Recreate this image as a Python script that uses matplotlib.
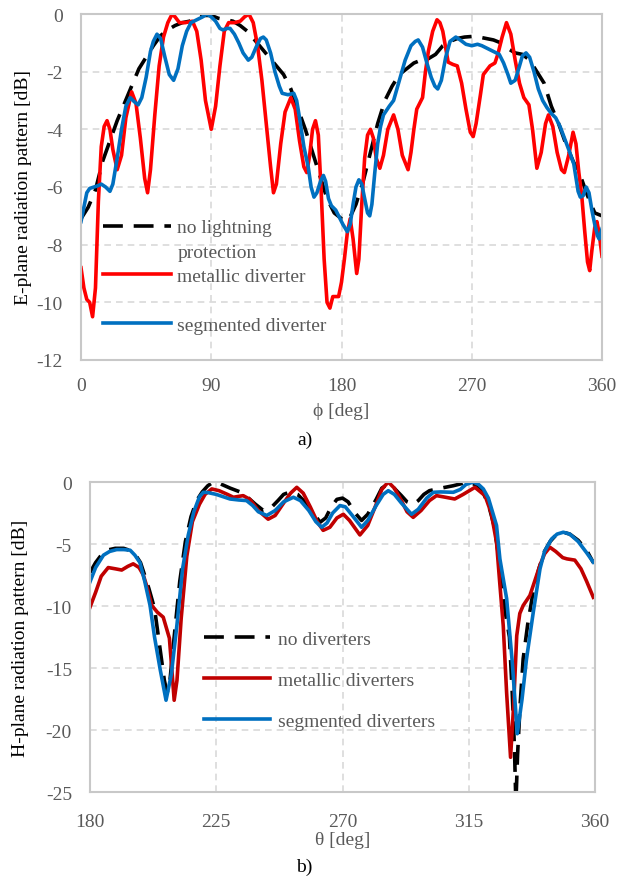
import matplotlib
matplotlib.use("Agg")
import matplotlib.pyplot as plt

plt.rcParams['font.family'] = ['Liberation Serif', 'DejaVu Serif']
plt.rcParams['axes.unicode_minus'] = False

# ---- E-plane (top) ----
phi_ref = [0, 5, 10, 15, 20, 25, 30, 35, 40, 45, 50, 55, 60, 65, 70, 75, 80, 85, 90, 95,
           100, 105, 110, 115, 120, 125, 130, 135, 140, 145, 150, 155, 160, 165, 170, 175,
           180, 185, 190, 195, 200, 205, 210, 215, 220, 225, 230, 235, 240, 245, 250, 255,
           260, 265, 270, 275, 280, 285, 290, 295, 300, 305, 310, 315, 320, 325, 330, 335,
           340, 345, 350, 355, 360]
e_none = [-7.1, -6.7, -6.1, -5.1, -4.4, -3.7, -3.1, -2.5, -1.9, -1.5, -1.1, -0.75, -0.55,
          -0.4, -0.3, -0.25, -0.15, -0.05, -0.05, -0.15, -0.2, -0.25, -0.4, -0.6, -0.9, -1.2,
          -1.5, -1.8, -2.1, -2.6, -3.3, -4.0, -4.8, -5.6, -6.4, -6.9, -7.1, -7.15, -6.6, -5.8,
          -4.8, -3.8, -3.0, -2.5, -2.1, -1.9, -1.7, -1.6, -1.55, -1.4, -1.1, -0.95, -0.85,
          -0.8, -0.78, -0.8, -0.85, -0.9, -1.0, -1.2, -1.35, -1.4, -1.6, -2.0, -2.4, -3.2,
          -3.8, -4.5, -5.1, -5.6, -6.3, -6.9, -7.0]

phi_met = [0, 2, 4, 6, 8, 10, 12, 14, 16, 18, 20, 22, 25, 28, 31, 35, 38, 41, 44, 46, 48,
           51, 54, 57, 60, 63, 65, 68, 72, 77, 80, 83, 86, 90, 93, 96, 99, 102, 106, 110,
           113, 116, 119, 122, 125, 128, 131, 133, 135, 138, 141, 145, 148, 151, 154, 156,
           158, 160, 162, 164, 166, 168, 170, 172, 174, 176, 178, 180, 182, 184, 186, 188,
           190.5, 192, 194, 196, 198, 200, 202, 204, 206.5, 209, 212, 216, 219, 222, 226,
           228, 230, 232, 234, 236, 238, 240, 243, 246, 248, 250, 253.7, 257, 260, 263, 266,
           269, 271, 273, 276, 278, 282.6, 286, 288, 291, 294, 297, 300, 303, 306, 309.5,
           312, 315, 318, 321, 323, 326, 329, 332, 334, 337, 340, 342, 344, 346, 348, 350,
           351.5, 353, 355, 356.5, 358, 360]
e_met = [-8.8, -9.5, -9.9, -10.0, -10.5, -9.5, -6.5, -4.6, -3.9, -3.7, -4.0, -4.7, -5.4,
         -4.9, -3.6, -2.7, -3.1, -4.3, -5.7, -6.2, -5.4, -3.5, -1.8, -0.8, -0.3, 0.0, -0.1,
         -0.3, -0.3, -0.25, -0.6, -1.6, -3.0, -4.0, -3.2, -1.8, -0.6, -0.3, -0.3, -0.25,
         -0.1, 0.0, -0.3, -1.1, -2.3, -3.8, -5.3, -6.2, -5.9, -4.5, -3.4, -2.9, -3.3, -4.4,
         -5.3, -5.5, -4.9, -4.0, -3.7, -4.2, -6.2, -8.5, -10.0, -10.2, -9.8, -9.8, -9.8,
         -9.3, -8.5, -7.6, -7.1, -7.8, -9.0, -8.5, -6.6, -5.0, -4.2, -4.0, -4.3, -5.0,
         -5.35, -4.9, -4.0, -3.5, -4.0, -4.9, -5.4, -4.8, -4.0, -3.3, -3.1, -2.9, -2.0,
         -1.3, -0.6, -0.2, -0.3, -0.6, -1.67, -1.75, -1.8, -2.4, -3.3, -4.1, -4.25, -3.8,
         -2.8, -2.1, -1.8, -1.7, -1.4, -0.8, -0.3, -0.7, -1.6, -2.4, -2.9, -3.15, -4.0,
         -5.35, -4.8, -3.8, -3.5, -3.9, -4.8, -5.4, -5.5, -4.9, -4.1, -4.5, -5.5, -6.3,
         -7.5, -8.6, -8.9, -8.2, -7.4, -7.2, -7.6, -8.4]

phi_seg = [0, 2, 4, 6, 9, 12, 14, 17, 20, 22, 25, 28, 31, 34, 37, 39.5, 42, 45, 48, 50,
           52.5, 55, 58, 61, 64, 67, 70, 73, 76, 80, 84, 87, 90, 93, 96, 98, 101, 103, 106,
           109, 112, 115.6, 118, 121, 124, 126, 128, 131, 134, 137, 139, 143, 147, 149, 151,
           154, 157, 159, 161, 163, 165.5, 167.5, 169, 171, 173, 176, 179, 181, 184, 186,
           188, 190, 192, 194, 196, 198, 199.5, 201, 203, 205, 207, 209, 213, 216, 220, 224,
           228, 231, 233, 236, 239, 242, 244.5, 246.5, 249, 252, 255, 259, 262, 266, 270,
           274, 277, 281, 285, 289, 292, 295, 297, 300, 303, 305, 307.5, 310, 313, 316, 319,
           322, 325, 328, 331, 334, 337, 340.5, 343.5, 345, 347, 349, 351, 353, 355, 357,
           358, 360]
e_seg = [-7.2, -6.7, -6.2, -6.05, -6.0, -5.95, -5.9, -6.0, -6.15, -5.9, -5.0, -4.0, -3.2,
         -2.9, -3.05, -3.15, -2.9, -2.2, -1.3, -0.95, -0.7, -0.85, -1.5, -2.1, -2.3, -1.9,
         -1.1, -0.6, -0.3, -0.2, -0.1, 0.0, -0.1, -0.25, -0.5, -0.55, -0.5, -0.5, -0.7,
         -1.0, -1.35, -1.6, -1.5, -1.15, -0.85, -0.8, -0.9, -1.35, -2.0, -2.5, -2.75, -2.8,
         -2.75, -3.0, -3.6, -4.6, -5.3, -6.0, -6.35, -6.2, -5.8, -5.6, -5.8, -6.4, -6.65,
         -6.8, -7.1, -7.3, -7.55, -7.3, -6.6, -6.0, -5.75, -5.9, -6.4, -6.9, -7.0, -6.6,
         -5.5, -4.5, -3.9, -3.5, -3.2, -3.0, -2.3, -1.6, -1.1, -0.95, -0.9, -1.15, -1.7,
         -2.2, -2.5, -2.6, -2.3, -1.5, -0.95, -0.8, -0.9, -1.05, -1.1, -1.05, -1.1, -1.2,
         -1.3, -1.4, -1.7, -2.1, -2.4, -2.3, -1.8, -1.45, -1.35, -1.5, -2.0, -2.6, -3.0,
         -3.25, -3.45, -3.6, -3.9, -4.3, -4.7, -5.2, -6.15, -6.35, -6.3, -6.0, -6.2, -6.8,
         -7.3, -7.7, -7.8, -7.45]

# ---- H-plane (bottom) ----
th_ref = [180, 182, 184, 186, 189, 192, 194, 196, 198, 199.6, 201, 203, 205, 206.5, 207.5,
          208.5, 210, 212, 214, 216, 218, 220, 222, 224, 226, 228, 230, 233.5, 236, 239,
          241.8, 244, 247, 249, 251.3, 254, 257, 260, 262, 264, 266, 268, 270, 272, 274.5,
          276.8, 279, 282, 284, 286.3, 288, 291, 293, 295.2, 297, 299, 301, 305, 309.5, 313,
          315.4, 318, 320, 322, 324, 326, 328, 329.5, 330.5, 331.3, 331.8, 332.4, 333.3,
          334.4, 336, 338, 340, 342, 344, 346, 348.7, 351, 354, 357, 359.4]
h_none = [-7.3, -6.5, -5.9, -5.5, -5.35, -5.35, -5.5, -5.8, -6.5, -7.6, -8.6, -10.2, -13.5,
          -16.0, -17.0, -16.0, -12.5, -8.0, -4.8, -2.8, -1.5, -0.8, -0.3, 0.0, -0.1, -0.3,
          -0.5, -0.8, -1.2, -1.8, -2.3, -2.2, -1.5, -1.0, -0.8, -1.0, -1.7, -2.6, -3.25,
          -2.9, -2.0, -1.4, -1.3, -1.6, -2.5, -3.1, -2.6, -1.4, -0.5, -0.15, -0.4, -1.1,
          -1.6, -1.8, -1.5, -1.0, -0.7, -0.5, -0.3, -0.1, 0.0, -0.3, -0.8, -1.8, -3.5, -6.5,
          -10.5, -12.5, -17.0, -21.5, -26.0, -22.0, -18.0, -14.25, -11.5, -8.8, -7.0, -5.6,
          -4.8, -4.3, -4.05, -4.2, -4.7, -5.5, -6.5]

th_met = [180, 182, 184, 186.5, 189, 191.3, 193.5, 195.4, 197.5, 199, 200.5, 202, 204,
          206.1, 208.3, 209.3, 210, 211, 212.5, 214.5, 216.5, 219, 221, 223.4, 226, 229,
          231.1, 234.6, 237, 240, 243.5, 246, 249, 251.5, 253.7, 256, 258.5, 261, 263.1,
          265.5, 268, 270.3, 272.5, 276.2, 279, 282, 284, 286.3, 288.5, 291, 293, 295.2,
          298, 301, 303.5, 306, 310, 313, 317.2, 320.8, 323, 324.9, 326, 327.3, 328.5,
          329.9, 331, 332.1, 333.2, 334.4, 336.8, 338.5, 340.4, 342, 343.9, 346, 348.5,
          350, 352.8, 355, 357, 359.4]
h_met = [-10.1, -8.9, -7.6, -6.9, -7.0, -7.1, -6.8, -6.6, -6.9, -7.5, -8.6, -9.95, -10.5,
         -10.9, -12.6, -15.5, -17.6, -16.0, -11.0, -6.0, -3.2, -1.8, -1.0, -0.56, -0.7,
         -1.0, -1.23, -1.1, -1.4, -2.3, -3.0, -2.7, -1.7, -0.9, -0.43, -0.9, -2.0, -3.2,
         -3.9, -3.65, -2.9, -2.6, -3.1, -4.27, -3.5, -1.8, -0.6, 0.0, -0.5, -1.5, -2.4,
         -2.85, -2.3, -1.5, -1.1, -1.2, -1.37, -1.0, -0.43, -1.1, -2.5, -4.86, -8.0, -11.6,
         -17.0, -22.2, -18.0, -12.4, -10.6, -9.96, -9.15, -8.0, -6.7, -5.8, -5.26, -5.6,
         -6.1, -6.2, -6.3, -7.0, -8.0, -9.3]

th_seg = [180, 182, 184.8, 187, 189.5, 192, 194.3, 196, 197.8, 199.5, 201.4, 203, 205,
          207.1, 209, 211, 213, 215, 217, 219, 220.4, 222, 225, 229.9, 233, 235.8, 238,
          240, 243, 246, 249, 252.5, 255, 258, 260.5, 262.6, 264.5, 266.5, 269.1, 271,
          273.5, 276.8, 279, 282, 284.5, 286.3, 288.5, 291, 294.6, 297, 300, 302.4, 305,
          309.5, 312, 314, 316.6, 318.5, 320.2, 322, 324.9, 326.1, 328.5, 330.5, 332.3,
          334, 335.6, 338, 340.4, 342, 344.5, 346.5, 348.7, 351, 354, 357, 359.4]
h_seg = [-8.05, -6.9, -5.9, -5.6, -5.45, -5.45, -5.5, -5.9, -6.5, -8.0, -9.95, -12.5,
         -15.1, -17.6, -15.5, -11.5, -7.0, -4.3, -2.4, -1.2, -0.83, -0.85, -1.0, -1.37,
         -1.45, -1.5, -1.9, -2.4, -2.7, -2.3, -1.6, -1.23, -1.5, -2.3, -3.2, -3.65, -3.3,
         -2.5, -1.9, -2.0, -2.7, -3.65, -3.1, -1.9, -1.0, -0.7, -1.0, -1.7, -2.6, -2.2,
         -1.3, -0.83, -0.8, -0.83, -0.6, -0.2, 0.0, -0.2, -0.56, -1.3, -3.5, -6.2, -9.4,
         -14.5, -20.3, -17.5, -14.25, -10.5, -7.0, -5.6, -4.6, -4.2, -4.05, -4.2, -4.8,
         -5.7, -6.47]

gray = '#595959'
lw = 2.6
dash = (5.5, 3)

fig = plt.figure(figsize=(6.2, 8.78), dpi=100)


def style(ax, xpad):
    ax.grid(True, color='#d9d9d9', linestyle=(0, (4, 3)), linewidth=1.2)
    ax.set_axisbelow(True)
    for s in ax.spines.values():
        s.set_color('#c8c8c8')
        s.set_linewidth(1.5)
    ax.tick_params(length=0, labelsize=14, labelcolor=gray)
    ax.tick_params(axis='y', pad=13)
    ax.tick_params(axis='x', pad=xpad)


ax1 = fig.add_axes([81 / 620, 1 - 361 / 878, 521 / 620, 346 / 878])
ax1.plot(phi_ref, e_none, color='black', lw=lw, dashes=dash, label='no lightning')
ax1.plot(phi_met, e_met, color='#ff0000', lw=lw, label='metallic diverter')
ax1.plot(phi_seg, e_seg, color='#0070c0', lw=lw, label='segmented diverter')
ax1.set_xlim(0, 360)
ax1.set_ylim(-12, 0)
ax1.set_xticks([0, 90, 180, 270, 360])
ax1.set_yticks(range(-12, 1, 2))
style(ax1, 12)
ax1.set_xlabel('ϕ [deg]', fontsize=14, color=gray, labelpad=6)
ax1.set_ylabel('E-plane radiation pattern [dB]', fontsize=14, labelpad=3)
ax1.legend(loc='upper left', bbox_to_anchor=(0.042, 0.408), frameon=False, fontsize=14,
           labelcolor=gray, handlelength=3.5, handletextpad=0.3, borderpad=0,
           borderaxespad=0, labelspacing=1.6)
# second line of the first legend label
ax1.text(0.186, 0.31, 'protection', transform=ax1.transAxes, fontsize=14,
         color=gray, va='center', ha='left')

ax2 = fig.add_axes([90 / 620, 1 - 793 / 878, 505 / 620, 310 / 878])
ax2.plot(th_ref, h_none, color='black', lw=lw, dashes=dash, label='no diverters')
ax2.plot(th_met, h_met, color='#c00000', lw=lw, label='metallic diverters')
ax2.plot(th_seg, h_seg, color='#0070c0', lw=lw, label='segmented diverters')
ax2.set_xlim(180, 360)
ax2.set_ylim(-25, 0)
ax2.set_xticks([180, 225, 270, 315, 360])
ax2.set_yticks(range(-25, 1, 5))
style(ax2, 15)
ax2.set_xlabel('θ [deg]', fontsize=14, color=gray, labelpad=1)
ax2.set_ylabel('H-plane radiation pattern [dB]', fontsize=14, labelpad=12)
ax2.legend(loc='upper left', bbox_to_anchor=(0.226, 0.522), frameon=False, fontsize=14,
           labelcolor=gray, handlelength=3.4, handletextpad=0.4, borderpad=0,
           borderaxespad=0, labelspacing=1.2)

fig.text(0.492, 1 - 440 / 878, 'a)', fontsize=14, ha='center', va='center')
fig.text(0.49, 1 - 867 / 878, 'b)', fontsize=14, ha='center', va='center')

fig.savefig('out.png', dpi=100)
